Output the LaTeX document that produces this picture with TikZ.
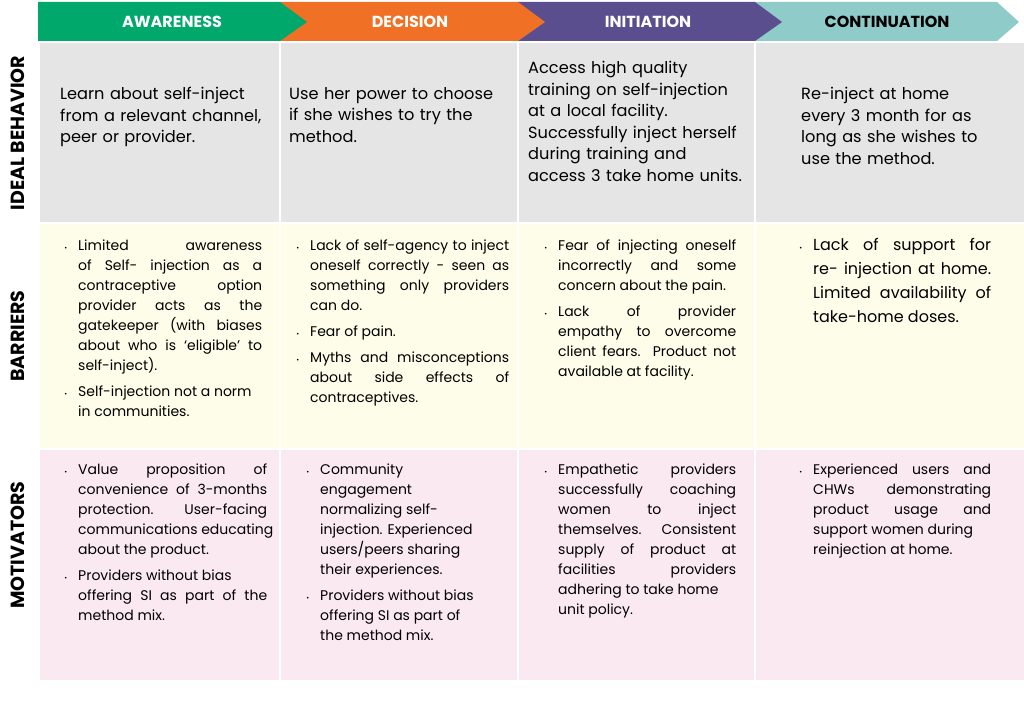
\documentclass[tikz,border=0pt]{standalone}
\usepackage{fontspec}
\setmainfont{Poppins}
\usepackage{enumitem}
\usetikzlibrary{positioning}
\definecolor{cGreen}{HTML}{00A86B}
\definecolor{cOrange}{HTML}{F07026}
\definecolor{cPurple}{HTML}{5B4E8F}
\definecolor{cTeal}{HTML}{8FCBC8}
\definecolor{cGray}{HTML}{E5E5E5}
\definecolor{cYellow}{HTML}{FDFDE9}
\definecolor{cPink}{HTML}{FBE9F1}
\hyphenpenalty=10000
\hfuzz=20pt
\setlist[itemize]{label={\scriptsize\textbullet},leftmargin=18pt,labelsep=11pt,itemsep=6pt,topsep=0pt,parsep=0pt}
\tikzset{
  phase/.style={font=\bfseries\fontsize{16}{18}\selectfont},
  rowlabel/.style={rotate=90,font=\bfseries\fontsize{19}{21}\selectfont},
  cell/.style={anchor=north west,inner sep=0pt,align=left,font=\fontsize{16.2}{21.5}\selectfont},
  blist/.style={anchor=north west,inner sep=0pt,font=\fontsize{14}{20}\selectfont}
}
\newcommand{\blt}[2]{\begin{minipage}[t]{#1pt}\begin{itemize}#2\end{itemize}\end{minipage}}
\newcommand{\lb}{\linebreak}
\begin{document}
\begin{tikzpicture}[x=1pt,y=-1pt]
\useasboundingbox (0,0) rectangle (1024,714);
% row backgrounds
\fill[cGray] (40,43) rectangle (1024,222);
\fill[cYellow] (40,224) rectangle (1024,448);
\fill[cPink] (40,450) rectangle (1024,680);
\foreach \x in {280,518,755} \draw[white,line width=2pt] (\x,43) -- (\x,680);
% header chevrons
\fill[cTeal] (755,2) -- (997,2) -- (1019,22) -- (997,41) -- (755,41) -- cycle;
\fill[cPurple] (518,2) -- (755,2) -- (782,22) -- (755,41) -- (518,41) -- cycle;
\fill[cOrange] (280,2) -- (518,2) -- (545,22) -- (518,41) -- (280,41) -- cycle;
\fill[cGreen] (38,2) -- (280,2) -- (307,22) -- (280,41) -- (38,41) -- cycle;
\node[phase,white] (aw) at (172,22) {AWARENESS};
\node[phase,white] (de) at (410,22) {DECISION};
\node[phase,white] (in) at (648,22) {INITIATION};
\node[phase] (co) at (887,22) {CONTINUATION};
% row labels
\node[rowlabel] (rIdeal) at (18,133) {IDEAL BEHAVIOR};
\node[rowlabel] (rBarr) at (18,336) {BARRIERS};
\node[rowlabel] (rMot) at (18,545) {MOTIVATORS};
% ideal behavior
\node[cell,text width=215pt] (i1) at (60,87) {Learn about self-inject\\from a relevant channel,\\peer or provider.};
\node[cell,text width=220pt] (i2) at (289,87) {Use her power to choose\\if she wishes to try the\\method.};
\node[cell,text width=225pt] (i3) at (528,61) {Access high quality\\training on self-injection\\at a local facility.\\Successfully inject herself\\during training and\\access 3 take home units.};
\node[cell,text width=225pt] (i4) at (801,87) {Re-inject at home\\every 3 month for as\\long as she wishes to\\use the method.};
% barriers
\node[blist] (b1) at (60,240) {\blt{202}{\item Limited awareness\lb of Self- injection as a\lb contraceptive option\lb provider acts as the\lb gatekeeper (with biases\lb about who is ‘eligible’ to\lb self-inject).
\item Self-injection not a norm\newline in communities.}};
\node[blist] (b2) at (292,240) {\blt{217}{\item Lack of self-agency to inject\lb oneself correctly - seen as\lb something only providers\lb can do.
\item Fear of pain.
\item Myths and misconceptions\lb about side effects of\lb contraceptives.}};
\node[blist] (b3) at (540,240) {\blt{196}{\item Fear of injecting oneself\lb incorrectly and some\lb concern about the pain.
\item Lack of provider\lb empathy to overcome\lb client fears. Product not\lb available at facility.}};
\node[blist,font=\fontsize{16}{24}\selectfont] (b4) at (795,238) {\blt{196}{\item Lack of support for\lb re- injection at home.\lb Limited availability of\lb take-home doses.}};
% motivators
\node[blist] (m1) at (60,464) {\blt{207}{\item Value proposition of\lb convenience of 3-months\lb protection. User-facing\lb \mbox{communications educating}\newline about the product.
\item Providers without bias\newline offering SI as part of the\lb method mix.}};
\node[blist] (m2) at (302,464) {\blt{190}{\raggedright\item Community\newline engagement\newline normalizing self-\newline injection. Experienced\newline users/peers sharing\newline their experiences.
\item Providers without bias\newline offering SI as part of\newline the method mix.}};
\node[blist] (m3) at (540,464) {\blt{196}{\item Empathetic providers\lb successfully coaching\lb women to inject\lb themselves. Consistent\lb supply of product at\lb facilities providers\lb adhering to take home\newline unit policy.}};
\node[blist] (m4) at (795,464) {\blt{196}{\item Experienced users and\lb CHWs demonstrating\lb product usage and\lb support women during\newline reinjection at home.}};
\end{tikzpicture}
\end{document}
